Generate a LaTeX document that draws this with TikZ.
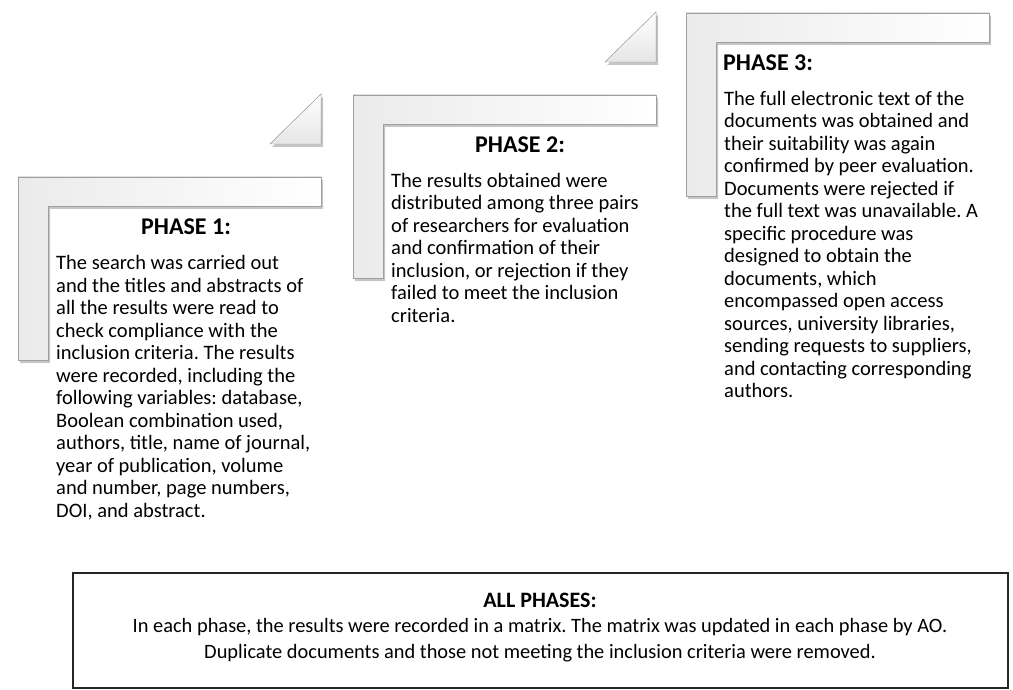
\documentclass[tikz,border=0pt]{standalone}
\usepackage{fontspec}
\setmainfont{Carlito}
\frenchspacing
\usetikzlibrary{positioning, shadows, calc}
\tikzset{stair/.style = {
	left color=gray!16, right color=white,
	draw=gray!75, thin,
	drop shadow={opacity=0.45, shadow xshift=2pt, shadow yshift=-3pt}
	}}
\tikzset{wedge/.style = {
	top color=white, bottom color=gray!20,
	draw=gray!75, thin,
	drop shadow={opacity=0.45, shadow xshift=2pt, shadow yshift=-3pt}
	}}
\tikzset{title/.style = {
	font=\bfseries\fontsize{24}{26}\selectfont,
	inner sep=0pt
	}}
% multi-line nodes sit on the baseline of their last line
\tikzset{body/.style = {
	font=\fontsize{20.5}{22.5}\selectfont,
	align=left, inner sep=0pt, anchor=base west
	}}
\tikzset{frame/.style = {draw=black!85, line width=1.5pt}}

\begin{document}
\begin{tikzpicture}[x=1pt, y=-1pt]

\useasboundingbox (0,0) rectangle (1013,690);

	% Steps
    \foreach \X/\Y/\N in {18/177/1, 353/95/2, 686/13/3}
    {
    	\fill[stair] (\X,\Y) -- ++(303,0) -- ++(0,29) -- ++(-273,0) -- ++(0,154) -- ++(-30,0) -- cycle;
    	\coordinate (s\N) at (\X,\Y);
    }
    % Triangles
    \foreach \X/\Y in {18/177, 353/95}
    {
    	\fill[wedge] (\X+252,\Y-33) -- (\X+303,\Y-33) -- (\X+303,\Y-83) -- cycle;
    }

    % Phase 1
    \node (title1) [title, anchor=base] at (186,235) {PHASE 1:};
    \node (body1) [body] at (56,517) {The search was carried out\\
    	and the titles and abstracts of\\
    	all the results were read to\\
    	check compliance with the\\
    	inclusion criteria. The results\\
    	were recorded, including the\\
    	following variables: database,\\
    	Boolean combination used,\\
    	authors, title, name of journal,\\
    	year of publication, volume\\
    	and number, page numbers,\\
    	DOI, and abstract.};

    % Phase 2
    \node (title2) [title, anchor=base] at (520,153) {PHASE 2:};
    \node (body2) [body] at (391,322) {The results obtained were\\
    	distributed among three pairs\\
    	of researchers for evaluation\\
    	and confirmation of their\\
    	inclusion, or rejection if they\\
    	failed to meet the inclusion\\
    	criteria.};

    % Phase 3
    \node (title3) [title, anchor=base west] at (723,71) {PHASE 3:};
    \node (body3) [body] at (724,397.5) {The full electronic text of the\\
    	documents was obtained and\\
    	their suitability was again\\
    	confirmed by peer evaluation.\\
    	Documents were rejected if\\
    	the full text was unavailable. A\\
    	specific procedure was\\
    	designed to obtain the\\
    	documents, which\\
    	encompassed open access\\
    	sources, university libraries,\\
    	sending requests to suppliers,\\
    	and contacting corresponding\\
    	authors.};

    % All phases
    \draw[frame] (73,573) rectangle (1008,688);
    \node (allt) [title, anchor=base, font=\bfseries\fontsize{22}{24}\selectfont] at (540,607) {ALL PHASES:};
    \node (allb) [body, anchor=base, align=center, font=\fontsize{20.4}{26}\selectfont] at (540,658)
    	{In each phase, the results were recorded in a matrix. The matrix was updated in each phase by AO.\\
    	Duplicate documents and those not meeting the inclusion criteria were removed.};

\end{tikzpicture}
\end{document}
